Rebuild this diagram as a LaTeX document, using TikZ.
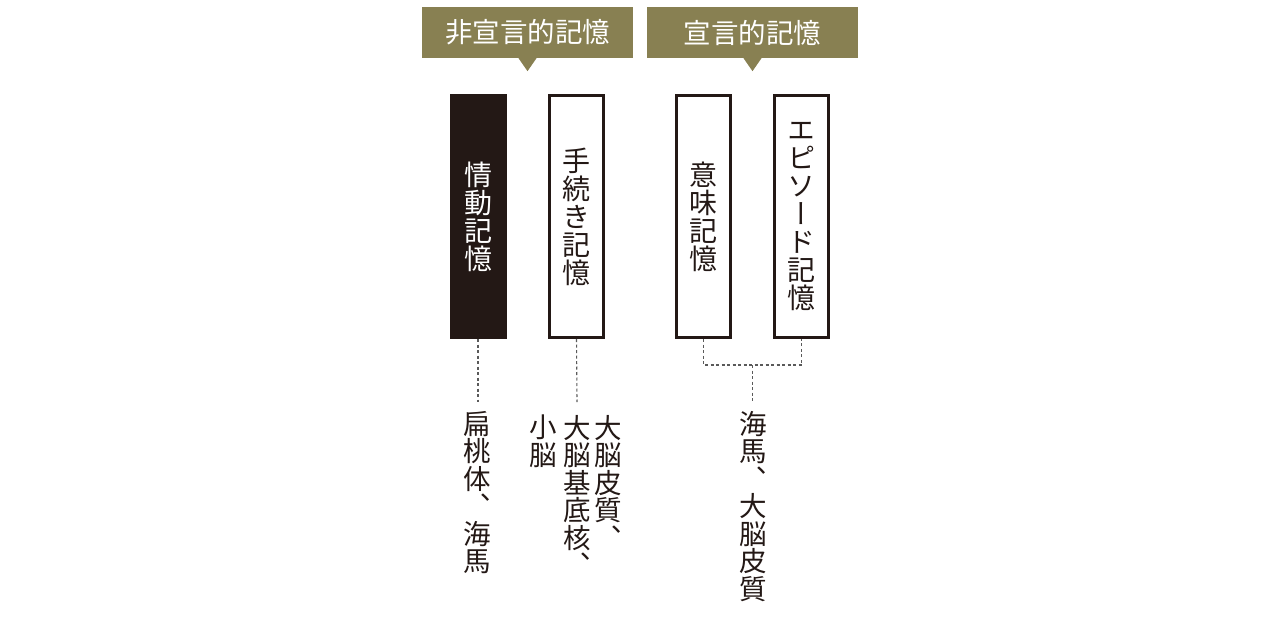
\documentclass[tikz,border=0pt]{standalone}
\usepackage{fontspec}
\newfontfamily\cjk{Noto Sans CJK JP}
\newfontfamily\cjkv[RawFeature=+vert]{Noto Sans CJK JP}
\definecolor{olive}{RGB}{136,128,82}
\definecolor{ink}{RGB}{35,24,21}
\definecolor{dotc}{RGB}{90,90,90}
\begin{document}
\begin{tikzpicture}[x=1pt,y=-1pt,
  header/.style={fill=olive,draw=none,minimum width=211pt,minimum height=51pt,inner sep=0pt,
    text=white,font=\cjk\fontsize{27.5}{29}\selectfont},
  membox/.style={draw=ink,line width=3pt,minimum width=54pt,minimum height=242pt,inner sep=0pt,
    align=center,font=\cjkv\fontsize{28}{28}\selectfont,text=ink},
  darkbox/.style={membox,fill=ink,text=white},
  vcol/.style={anchor=north,align=center,inner sep=0pt,text=ink,
    font=\cjkv\fontsize{27.5}{27.5}\selectfont},
  dotline/.style={draw=dotc,line width=1.1pt,dash pattern=on 3pt off 2.5pt}]
\useasboundingbox (0,0) rectangle (1280,621);
% headers
\node[header] (h1) at (527.5,32.5) {非宣言的記憶};
\node[header] (h2) at (752.5,32.5) {宣言的記憶};
\fill[olive] ([xshift=-9pt]h1.south) -- ([xshift=9pt]h1.south) -- ([yshift=-13pt]h1.south) -- cycle;
\fill[olive] ([xshift=-9pt]h2.south) -- ([xshift=9pt]h2.south) -- ([yshift=-13pt]h2.south) -- cycle;
% boxes
\node[darkbox] (b1) at (478,216.5) {情\\動\\記\\憶};
\node[membox] (b2) at (576.5,216.5) {手\\続\\き\\記\\憶};
\node[membox] (b3) at (703.5,216.5) {意\\味\\記\\憶};
\node[membox] (b4) at (801.5,216.5) {エ\\ピ\\ソ\\ー\\ド\\記\\憶};
% text columns
\node[vcol] (t1) at (477,411) {扁\\桃\\体\\、\\海\\馬};
\node[vcol] (t2a) at (608,415) {大\\脳\\皮\\質\\、};
\node[vcol] (t2b) at (577,415) {大\\脳\\基\\底\\核\\、};
\node[vcol] (t2c) at (543,415) {小\\脳};
\node[vcol] (t3) at (753,411) {海\\馬\\、\\大\\脳\\皮\\質};
% connectors
\coordinate (c1) at (478,402);
\coordinate (c2) at (577,402);
\coordinate (j) at (752.5,365);
\coordinate (c3) at (752.5,402);
\draw[dotline] (b1.south) -- (c1);
\draw[dotline] (b2.south) -- (c2);
\draw[dotline] (b3.south) |- (j) -| (b4.south);
\draw[dotline] (j) -- (c3);
\end{tikzpicture}
\end{document}
